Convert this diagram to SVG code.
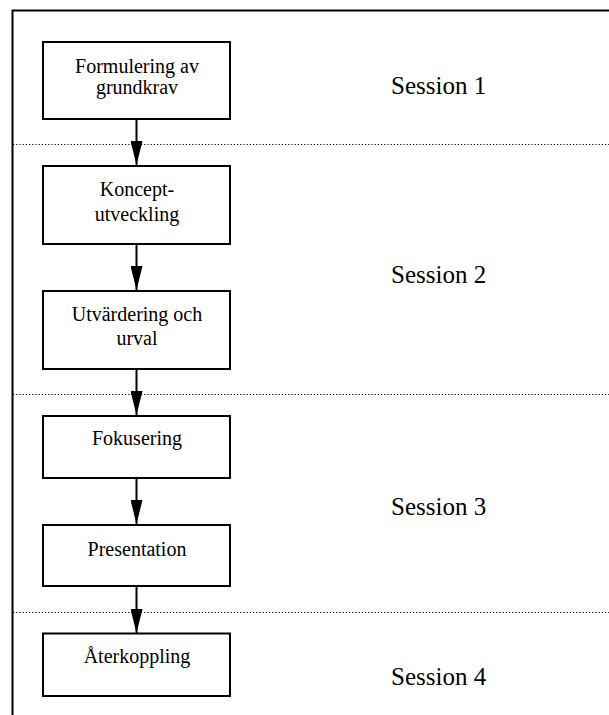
<svg xmlns="http://www.w3.org/2000/svg" width="609" height="715" viewBox="0 0 609 715">
<style>
.box{fill:#fff;stroke:#000;stroke-width:2}
.t{font-family:"Liberation Serif","Times New Roman",serif;font-size:20px;fill:#000;text-anchor:middle}
.s{font-family:"Liberation Serif","Times New Roman",serif;font-size:25px;fill:#000}
.dot{stroke:#000;stroke-width:1.2;stroke-dasharray:1.2 2}
.frame{stroke:#000;stroke-width:2;fill:none}
.arr{stroke:#000;stroke-width:2}
</style>
<defs>
<marker id="ah" markerUnits="userSpaceOnUse" markerWidth="24" markerHeight="12" refX="24" refY="6" orient="auto" viewBox="0 0 24 12">
<path d="M0,0 L24,6 L0,12 Z" fill="#000"/>
</marker>
</defs>
<g id="frame">
<path class="frame" d="M12.5,715 L12.5,10.5 L609,10.5"/>
<line class="dot" x1="13" y1="144.5" x2="609" y2="144.5"/>
<line class="dot" x1="13" y1="394.5" x2="609" y2="394.5"/>
<line class="dot" x1="13" y1="612.5" x2="609" y2="612.5"/>
</g>
<g id="connectors">
<line class="arr" x1="136.5" y1="119" x2="136.5" y2="165" marker-end="url(#ah)"/>
<line class="arr" x1="136.5" y1="244" x2="136.5" y2="290" marker-end="url(#ah)"/>
<line class="arr" x1="136.5" y1="369" x2="136.5" y2="415" marker-end="url(#ah)"/>
<line class="arr" x1="136.5" y1="478" x2="136.5" y2="524" marker-end="url(#ah)"/>
<line class="arr" x1="136.5" y1="586" x2="136.5" y2="633" marker-end="url(#ah)"/>
</g>
<g id="n1">
<rect class="box" x="43" y="42" width="187" height="77"/>
<text class="t" x="137" y="73">Formulering av</text>
<text class="t" x="137" y="93.5">grundkrav</text>
</g>
<g id="n2">
<rect class="box" x="43" y="166" width="187" height="78"/>
<text class="t" x="137" y="196">Koncept-</text>
<text class="t" x="137" y="221">utveckling</text>
</g>
<g id="n3">
<rect class="box" x="43" y="291" width="187" height="78"/>
<text class="t" x="137" y="321">Utvärdering och</text>
<text class="t" x="137" y="345">urval</text>
</g>
<g id="n4">
<rect class="box" x="43" y="416" width="187" height="62"/>
<text class="t" x="137" y="445">Fokusering</text>
</g>
<g id="n5">
<rect class="box" x="43" y="525" width="187" height="61"/>
<text class="t" x="137" y="556">Presentation</text>
</g>
<g id="n6">
<rect class="box" x="43" y="633.5" width="187" height="62.5"/>
<text class="t" x="137" y="662.5">Återkoppling</text>
</g>
<g id="labels">
<text class="s" x="391" y="94">Session 1</text>
<text class="s" x="391" y="283">Session 2</text>
<text class="s" x="391" y="515">Session 3</text>
<text class="s" x="391" y="685">Session 4</text>
</g>
</svg>
